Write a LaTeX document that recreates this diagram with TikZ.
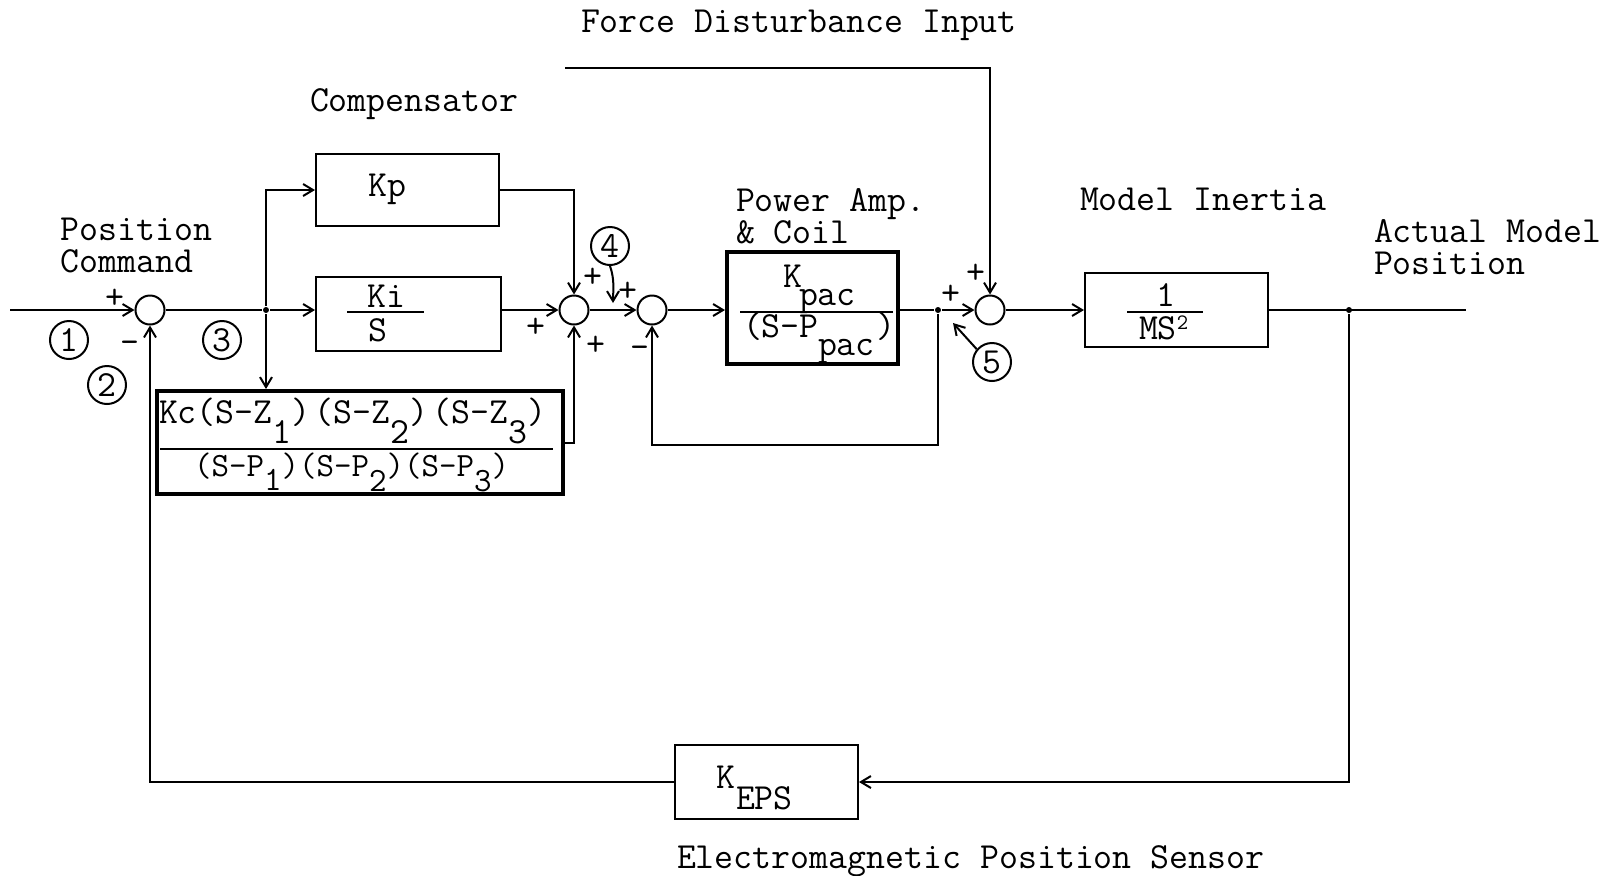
\documentclass[tikz,border=0pt]{standalone}
\usepackage{fontspec}
\usetikzlibrary{arrows.meta}
\newcommand{\lowered}[2]{\raisebox{#1}{#2}}
\begin{document}
\begin{tikzpicture}[x=0.5pt,y=-0.5pt,
  font=\ttfamily\fontsize{18.4}{21}\selectfont,
  line width=1pt,
  >={Straight Barb[length=5pt,width=6pt]},
  blk/.style={draw,line width=1pt,inner sep=0pt},
  thk/.style={draw,line width=2pt,inner sep=0pt},
  sumc/.style={circle,draw,line width=1pt,minimum size=14.5pt,inner sep=0pt},
  numc/.style={circle,draw,line width=1pt,minimum size=19pt,inner sep=0pt},
  txt/.style={inner sep=0pt,anchor=base west},
  two/.style={inner sep=0pt,anchor=base west,align=left,font=\ttfamily\fontsize{18.4}{15.75}\selectfont},
  sgn/.style={inner sep=0pt},
  jdot/.style={circle,fill,minimum size=3pt,inner sep=0pt},
]
\useasboundingbox (0,0) rectangle (1606,875);

% ---------- blocks ----------
\coordinate (in) at (10,310);
\node[sumc] (s1) at (150,310) {};
\node[jdot] (b1) at (266,310) {};
\node[blk,minimum width=91.5pt,minimum height=36pt] (kp) at (407.5,190) {};
\node[blk,minimum width=92.5pt,minimum height=37pt] (ki) at (408.5,314) {};
\node[thk,minimum width=203pt,minimum height=51.5pt] (kc) at (360,442.5) {};
\node[sumc] (s2) at (574,310) {};
\node[sumc] (s3) at (652,310) {};
\node[thk,minimum width=85.5pt,minimum height=56pt] (pa) at (812.5,308) {};
\node[jdot] (b2) at (938,310) {};
\node[sumc] (s4) at (990,310) {};
\coordinate (fd) at (565,68);
\node[blk,minimum width=91.5pt,minimum height=37pt] (mi) at (1176.5,310) {};
\node[jdot] (b3) at (1349,310) {};
\coordinate (out) at (1466,310);
\node[blk,minimum width=91.5pt,minimum height=37pt] (ke) at (766.5,782) {};
\coordinate (fb3) at (938,445);

% ---------- numbered circles ----------
\node[numc] (c1) at (69,340) {1};
\node[numc] (c2) at (107,385) {2};
\node[numc] (c3) at (222,340) {3};
\node[numc] (c4) at (610,246) {4};
\node[numc] (c5) at (992,362) {5};

% ---------- connectors ----------
\draw[->] (in) -- (s1.west);
\draw (s1.east) -- (b1);
\draw[->] (b1) |- (kp.west);
\draw[->] (b1) -- (b1 -| ki.west);
\draw[->] (b1) -- (b1 |- kc.north);
\draw[->] (kp.east) -| (s2.north);
\draw[->] (s2 -| ki.east) -- (s2.west);
\draw[->] (kc.east) -| (s2.south);
\draw[->] (s2.east) -- (s3.west);
\draw[->] (s3.east) -- (s3 -| pa.west);
\draw (s3 -| pa.east) -- (b2);
\draw[->] (b2) -- (s4.west);
\draw[->] (b2) -- (fb3) -| (s3.south);
\draw[->] (fd) -| (s4.north);
\draw[->] (s4.east) -- (s4 -| mi.west);
\draw (s4 -| mi.east) -- (out);
\draw[->] (b3) |- (ke.east);
\draw[->] (ke.west) -| (s1.south);
\draw[->] (c4.south) .. controls (615,280) and (613,292) .. (613,303);
\draw[->] (c5.140) -- (953,323);

% ---------- signs ----------
\node[sgn] (p1) at (115,299) {+};
\node[sgn] (m1) at (130,347) {-};
\node[sgn] (p2) at (536,328) {+};
\node[sgn] (p3) at (593,278) {+};
\node[sgn] (p4) at (596,346) {+};
\node[sgn] (p5) at (628,292) {+};
\node[sgn] (m2) at (640,352) {-};
\node[sgn] (p6) at (951,295) {+};
\node[sgn] (p7) at (976,274) {+};

% ---------- block contents ----------
\node[inner sep=0pt,anchor=base] (tkp) at (387,196) {Kp};
\node[inner sep=0pt,anchor=base] (tki) at (386,307) {Ki};
\draw (347,312) -- (424,312);
\node[inner sep=0pt,anchor=base] (tks) at (378,341) {S};

\node[txt] (kcn) at (158,423) {Kc(S-Z\lowered{-10pt}{1})\kern2pt(S-Z\lowered{-10pt}{2})\kern2pt(S-Z\lowered{-10pt}{3})};
\draw (160,449) -- (553,449);
\node[txt,font=\ttfamily\fontsize{17}{20}\selectfont] (kcd) at (193,476) {(S-P\lowered{-7pt}{1})(S-P\lowered{-7.5pt}{2})(S-P\lowered{-7.5pt}{3})};

\node[txt] (tk1) at (782,287) {K};
\node[txt] (tk2) at (798,305) {pac};
\draw (740,312) -- (893,312);
\node[txt] (tk3) at (742,337) {(S-P};
\node[txt] (tk4) at (875,337) {)};
\node[txt] (tk5) at (817,355) {pac};

\node[inner sep=0pt,anchor=base] (tm1) at (1166,306) {1};
\draw (1127,312) -- (1203,312);
\node[txt] (tm2) at (1138,339) {MS\lowered{5pt}{\fontsize{11}{11}\selectfont 2}};

\node[txt] (te1) at (715,788) {K};
\node[txt] (te2) at (735,809) {EPS};

% ---------- labels ----------
\node[txt] (lfd) at (580,32) {Force Disturbance Input};
\node[txt] (lcomp) at (309,111) {Compensator};
\node[two] (lpos) at (60,272) {Position\\Command};
\node[two] (lpa) at (735,243) {Power Amp.\\\& Coil};
\node[txt] (lmi) at (1079,210) {Model Inertia};
\node[two] (lam) at (1373,274) {Actual Model\\Position};
\node[txt] (leps) at (676,868) {Electromagnetic Position Sensor};
\end{tikzpicture}
\end{document}
